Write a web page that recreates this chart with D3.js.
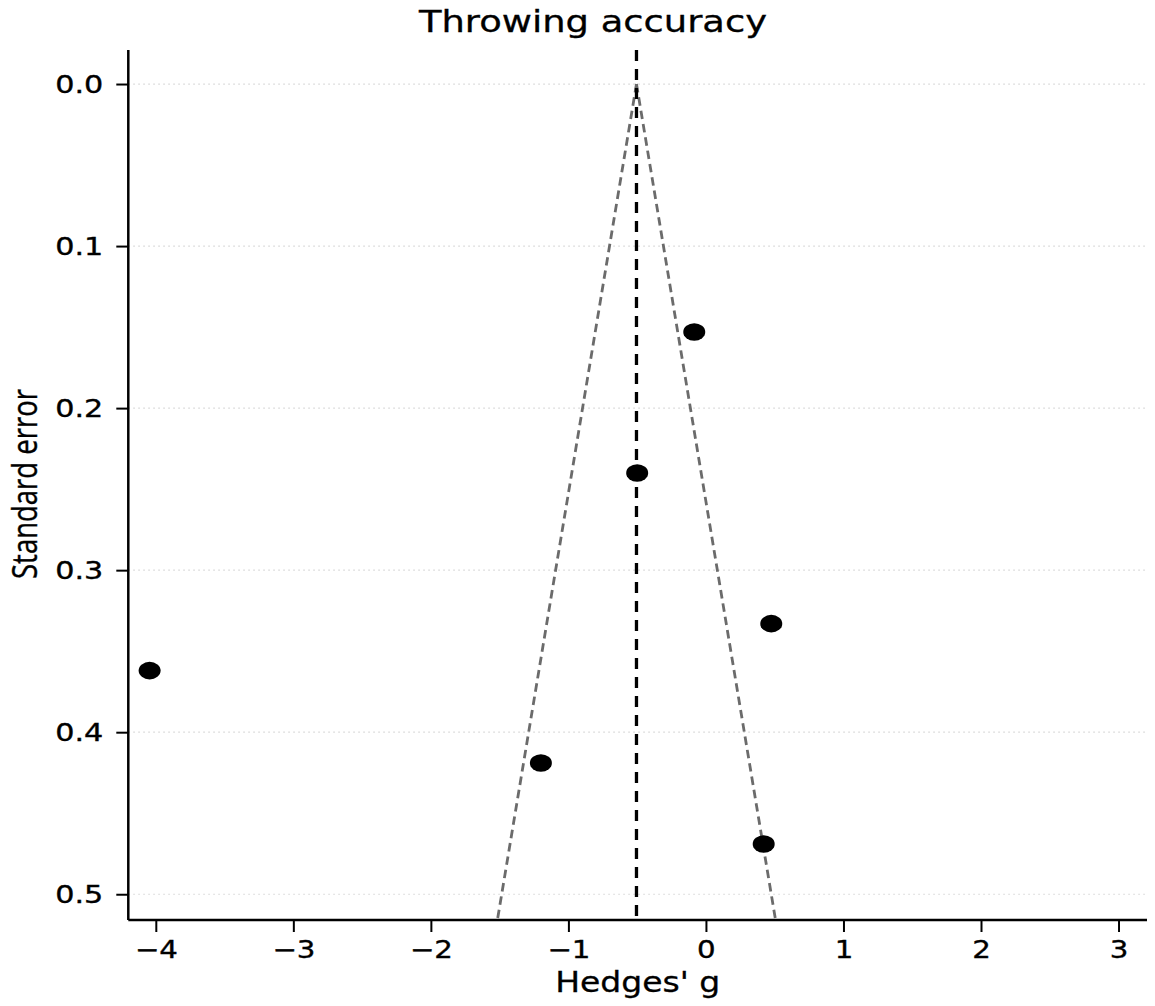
<!DOCTYPE html>
<html>
<head>
<meta charset="utf-8">
<script src="https://cdn.jsdelivr.net/npm/d3@7"></script>
<style>
  html, body { margin: 0; padding: 0; background: #fff; }
  svg { display: block; }
</style>
</head>
<body>
<svg id="chart" width="1155" height="1006"></svg>
<script>
// ---- Data ----
const studyG = [-0.085, -0.50, 0.475, -4.045, -1.20, 0.42];
const studySE = [0.153, 0.240, 0.333, 0.362, 0.419, 0.469];
const pooledG = -0.505;
const xTicks = [-4, -3, -2, -1, 0, 1, 2, 3];
const yTicks = [0.0, 0.1, 0.2, 0.3, 0.4, 0.5];
const xDomain = [-4.2, 3.207];
const yDomain = [-0.021, 0.5159];
const titleText = "Throwing accuracy";
const xLabelText = "Hedges' g";
const yLabelText = "Standard error";

// ---- Layout ----
const L = 128.3, R = 1147, T = 50, B = 920;
const SX = 1.2; // horizontal stretch of the original rendering

const svg = d3.select("#chart");
const x = d3.scaleLinear().domain(xDomain).range([L, R]);
const y = d3.scaleLinear().domain(yDomain).range([T, B]);

// Grid lines
svg.append("g").selectAll("line").data(yTicks).join("line")
  .attr("x1", L).attr("x2", R)
  .attr("y1", d => y(d)).attr("y2", d => y(d))
  .attr("stroke", "#d4d4d4").attr("stroke-width", 1.2)
  .attr("stroke-dasharray", "1.5,3.5");

// Funnel lines
const seMax = yDomain[1];
const funnel = [
  [[pooledG, 0], [pooledG - 1.96 * seMax, seMax]],
  [[pooledG, 0], [pooledG + 1.96 * seMax, seMax]]
];
svg.append("g").selectAll("line").data(funnel).join("line")
  .attr("x1", d => x(d[0][0])).attr("y1", d => y(d[0][1]))
  .attr("x2", d => x(d[1][0])).attr("y2", d => y(d[1][1]))
  .attr("stroke", "#6b6b6b").attr("stroke-width", 2.8)
  .attr("stroke-dasharray", "8.5,5");

// Pooled estimate line
svg.append("line")
  .attr("x1", x(pooledG)).attr("x2", x(pooledG))
  .attr("y1", T).attr("y2", B)
  .attr("stroke", "#000").attr("stroke-width", 3.3)
  .attr("stroke-dasharray", "11,8");

// Points
svg.append("g").selectAll("ellipse").data(studyG.map((g, i) => [g, studySE[i]])).join("ellipse")
  .attr("cx", d => x(d[0])).attr("cy", d => y(d[1]))
  .attr("rx", 11).attr("ry", 8.8)
  .attr("fill", "#000");

// Axes
const xAxis = d3.axisBottom(x).tickValues(xTicks).tickSize(12).tickPadding(0)
  .tickFormat(d => d3.format("d")(d).replace("-", "\u2212"));
const gx = svg.append("g").attr("transform", `translate(0,${B})`).call(xAxis);
gx.select(".domain").attr("stroke", "#000").attr("stroke-width", 2.5)
  .attr("d", `M${L},0H${R}`);
gx.selectAll(".tick line").attr("stroke", "#000").attr("stroke-width", 2);
gx.selectAll(".tick text")
  .attr("y", 0).attr("dy", 0)
  .attr("transform", `translate(0,37.5) scale(1.22,1)`)
  .attr("font-family", "DejaVu Sans").attr("font-size", 24).attr("fill", "#000")
  .attr("stroke", "#000").attr("stroke-width", 0.35);

const yAxis = d3.axisLeft(y).tickValues(yTicks).tickSize(12).tickPadding(0)
  .tickFormat(d3.format(".1f"));
const gy = svg.append("g").attr("transform", `translate(${L},0)`).call(yAxis);
gy.select(".domain").attr("stroke", "#000").attr("stroke-width", 2.5)
  .attr("d", `M0,${T}V${B}`);
gy.selectAll(".tick line").attr("stroke", "#000").attr("stroke-width", 2);
gy.selectAll(".tick text")
  .attr("x", 0).attr("dy", "0.36em")
  .attr("transform", `translate(-25,0) scale(1.26,1)`)
  .attr("text-anchor", "end")
  .attr("font-family", "DejaVu Sans").attr("font-size", 24).attr("fill", "#000")
  .attr("stroke", "#000").attr("stroke-width", 0.35);

// Title
svg.append("text")
  .attr("transform", `translate(593,32) scale(1.23,1)`)
  .attr("text-anchor", "middle")
  .attr("font-family", "DejaVu Sans").attr("font-size", 30)
  .attr("stroke", "#000").attr("stroke-width", 0.3)
  .text(titleText);

// X label
svg.append("text")
  .attr("transform", `translate(${(L + R) / 2},992) scale(${SX},1)`)
  .attr("text-anchor", "middle")
  .attr("font-family", "DejaVu Sans").attr("font-size", 27.5)
  .attr("stroke", "#000").attr("stroke-width", 0.3)
  .text(xLabelText);

// Y label
svg.append("text")
  .attr("transform", `translate(37,${(T + B) / 2 - 1}) scale(1.28,1) rotate(-90)`)
  .attr("text-anchor", "middle")
  .attr("font-family", "Open Sans").attr("font-size", 27.5)
  .attr("stroke", "#000").attr("stroke-width", 0.3)
  .text(yLabelText);
</script>
</body>
</html>
